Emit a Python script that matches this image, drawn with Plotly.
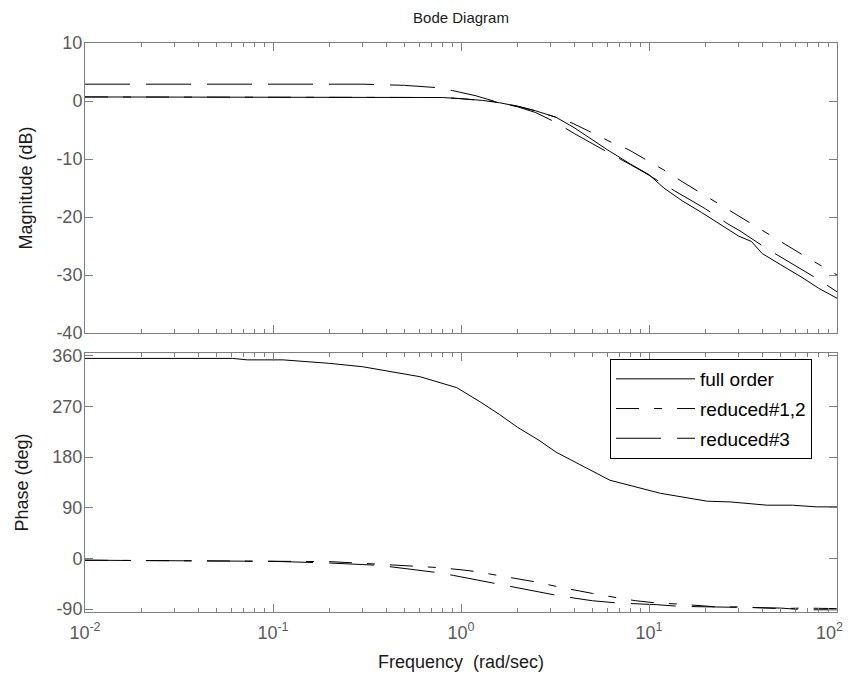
import plotly.graph_objects as go

# ---------------- data ----------------
mag_full_freq = [0.01, 0.1, 0.3, 0.6, 0.8, 1.0, 1.3, 1.6, 2.0, 2.5, 3.2, 4.0, 5.0, 6.0, 8.0,
                 10, 12, 15, 19, 25, 30, 35, 40, 50, 65, 80, 100]
mag_full = [0.7, 0.7, 0.7, 0.7, 0.6, 0.4, 0.1, -0.3, -0.9, -1.7, -2.8, -4.6, -6.7, -8.4, -10.9,
            -12.7, -15.0, -17.2, -19.2, -21.7, -23.3, -24.2, -26.3, -28.2, -30.4, -32.3, -34.0]

mag_red12_freq = [0.01, 0.1, 0.5, 0.8, 1.0, 1.5, 2.0, 2.5, 3.2, 3.9, 5.0, 6.2, 7.8, 9.9, 12,
                  15, 19, 23, 28, 35, 44, 53, 67, 84, 100]
mag_red12 = [0.7, 0.7, 0.7, 0.6, 0.4, -0.1, -0.9, -1.7, -2.8, -3.8, -5.5, -7.0, -8.4, -10.3, -11.9,
             -13.9, -15.9, -17.5, -19.3, -21.2, -23.0, -24.7, -26.7, -28.5, -30.0]

mag_red3_freq = [0.01, 0.1, 0.3, 0.5, 0.75, 0.9, 1.2, 1.6, 2.0, 2.5, 3.2, 4.0, 5.0, 6.0, 8.0,
                 10, 13.7, 20, 26.3, 30.5, 42.5, 50, 79, 100]
mag_red3 = [2.9, 2.9, 2.9, 2.7, 2.3, 1.8, 0.9, -0.3, -1.0, -2.0, -3.7, -5.6, -7.4, -8.8, -11.0,
            -12.8, -15.5, -18.6, -21.2, -22.4, -25.5, -26.9, -30.7, -32.9]

ph_full_freq = [0.01, 0.03, 0.061, 0.073, 0.113, 0.2, 0.3, 0.605, 0.95, 1.26, 1.6, 2.0, 2.6,
                3.2, 3.89, 6.2, 11.5, 20.4, 27, 42.5, 58, 78, 100]
ph_full = [355.4, 355.4, 355.4, 352.8, 352.8, 346.6, 340.6, 322.9, 303.4, 278.5, 256, 233, 210,
           189, 174.6, 139, 115.8, 101.8, 100.5, 94.7, 94.7, 91.7, 91.7]

ph_red12_freq = [0.01, 0.1, 0.2, 0.36, 0.57, 0.75, 1.0, 1.19, 1.57, 2.0, 2.54, 3.36, 4.3, 5.0,
                 6.84, 8.5, 11, 14.6, 23, 30, 50, 66, 100]
ph_red12 = [-3, -4, -5.5, -10, -13, -16, -20, -23, -30, -36, -42, -51, -57, -62,
            -70, -75, -79, -81, -86, -86, -89, -88, -89]

ph_red3_freq = [0.01, 0.1, 0.2, 0.36, 0.43, 0.75, 0.91, 1.2, 1.57, 1.89, 2.5, 3.3, 3.95, 5.0,
                6.84, 8.5, 11, 14.6, 23, 30, 50, 66, 100]
ph_red3 = [-3, -5, -8, -12, -15, -25, -30, -38, -45, -51, -59, -66, -70, -75,
           -79, -80, -82, -85, -86, -86, -88, -91, -91]

series_names = ["full order", "reduced#1,2", "reduced#3"]

x_tickvals = [0.01, 0.1, 1, 10, 100]
x_ticktext = ["10<sup>-2</sup>", "10<sup>-1</sup>", "10<sup>0</sup>", "10<sup>1</sup>", "10<sup>2</sup>"]
mag_tickvals = [10, 0, -10, -20, -30, -40]
mag_ticktext = ["10", "0", "-10", "-20", "-30", "-40"]
ph_tickvals = [360, 270, 180, 90, 0, -90]
ph_ticktext = ["360", "270", "180", "90", "0", "-90"]
minor_vals = [m * 10 ** e for e in (-2, -1, 0, 1) for m in range(2, 10)]

# ---------------- figure ----------------
# the page body has an 8px margin: figure coordinates = window coordinates - 8
W, H = 843, 676
L, R, T, B = 77, 14, 35, 72
ph_h = H - T - B
top_dom = [1 - (325 - T) / ph_h, 1.0]
bot_dom = [0.0, 1 - (345 - T) / ph_h]

# keep the last (right-edge) tick label inside the window: pad it on the right
x_labels_drawn = x_ticktext[:-1] + [x_ticktext[-1] + "\u00a0\u00a0\u00a0"]

styles = [dict(color="black", width=1, dash="solid"),
          dict(color="black", width=1, dash="23px,15px,8px,15px"),
          dict(color="black", width=1, dash="45px,16px")]

fig = go.Figure()
mag_sets = [(mag_full_freq, mag_full), (mag_red12_freq, mag_red12), (mag_red3_freq, mag_red3)]
ph_sets = [(ph_full_freq, ph_full), (ph_red12_freq, ph_red12), (ph_red3_freq, ph_red3)]
for i, name in enumerate(series_names):
    fig.add_trace(go.Scatter(x=mag_sets[i][0], y=mag_sets[i][1], mode="lines", line=styles[i],
                             name=name, legendgroup=name, showlegend=False,
                             xaxis="x", yaxis="y"))
for i, name in enumerate(series_names):
    fig.add_trace(go.Scatter(x=ph_sets[i][0], y=ph_sets[i][1], mode="lines", line=styles[i],
                             name=name, legendgroup=name, showlegend=True,
                             xaxis="x2", yaxis="y2"))

FONT = "Liberation Sans, Arial, sans-serif"
axis_col = "#7f7f7f"
tick_font = dict(family=FONT, size=18, color="#5a5a5a")
title_font = dict(family=FONT, size=18, color="#1a1a1a")
common_x = dict(type="log", range=[-2, 2], showgrid=False, zeroline=False, automargin=False,
                showline=True, linecolor=axis_col, linewidth=1, mirror="ticks",
                ticks="inside", ticklen=8, tickcolor=axis_col,
                tickvals=x_tickvals, ticktext=x_labels_drawn, ticklabeloverflow="allow",
                minor=dict(ticks="inside", ticklen=4, tickcolor=axis_col, tickvals=minor_vals),
                tickfont=tick_font, ticklabelstandoff=4)
common_y = dict(showgrid=False, zeroline=False, showline=True, linecolor=axis_col, linewidth=1,
                automargin=False, mirror="ticks", ticks="inside", ticklen=8, tickcolor=axis_col,
                tickfont=tick_font, ticklabelstandoff=-2)

fig.update_layout(
    width=W, height=H,
    margin=dict(l=L, r=R, t=T, b=B),
    paper_bgcolor="white", plot_bgcolor="white",
    font=dict(family=FONT, size=14, color="black"),
    title=dict(text="Bode Diagram", x=(L + W - R) / 2 / W, xanchor="center",
               y=1 - 10 / H, yref="container", yanchor="middle",
               font=dict(family=FONT, size=15, color="#1a1a1a")),
    xaxis=dict(common_x, domain=[0, 1], anchor="y", showticklabels=False),
    yaxis=dict(common_y, domain=top_dom, anchor="x", range=[-40, 10],
               tickvals=mag_tickvals, ticktext=mag_ticktext,
               title=dict(text="Magnitude (dB)", standoff=19, font=title_font)),
    xaxis2=dict(common_x, domain=[0, 1], anchor="y2", matches="x",
                title=dict(text="Frequency  (rad/sec)", standoff=13, font=title_font)),
    yaxis2=dict(common_y, domain=bot_dom, anchor="x2", range=[-95, 365],
                tickvals=ph_tickvals, ticktext=ph_ticktext,
                title=dict(text="Phase (deg)", standoff=19, font=title_font)),
    legend=dict(x=(602 - L) / (W - L - R), y=(H - B - 351) / ph_h, xanchor="left", yanchor="top",
                bgcolor="white", bordercolor="black", borderwidth=1,
                font=dict(family=FONT, size=19, color="black"), tracegroupgap=2, itemwidth=79),
)

fig.write_html("out.html")
